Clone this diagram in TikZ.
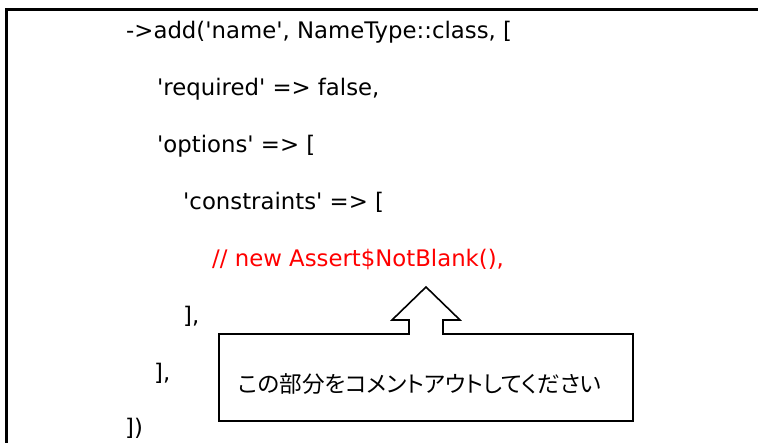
\documentclass[tikz,border=0pt]{standalone}
\usepackage{fontspec}
\setmainfont{DejaVu Sans}[Ligatures=TeXOff]
\newfontfamily\jpfont{Noto Sans CJK JP}[CharacterWidth=AlternateProportional]
\begin{document}
\begin{tikzpicture}[x=1pt,y=-1pt,
  code/.style={anchor=base west,inner sep=0pt,font=\fontsize{22.8}{27}\selectfont},
  frame/.style={line width=2.5pt,black},
  callout/.style={line width=1.6pt,black,line join=miter}]
\useasboundingbox (0,0) rectangle (758,443);
% outer frame (cut off at right and bottom)
\draw[frame] (6.5,443) -- (6.5,9.5) -- (758,9.5);
% code lines
\node[code] (l1) at (126,39) {->add('name', NameType::class, [};
\node[code] (l2) at (157,96) {'required' => false,};
\node[code] (l3) at (157,153) {'options' => [};
\node[code] (l4) at (183,210) {'constraints' => [};
\node[code,text={rgb,255:red,255;green,0;blue,0}] (l5) at (212,267) {// new Assert\$NotBlank(),};
\node[code] (l6) at (183,324) {],};
\node[code] (l7) at (154,381) {],};
\node[code] (l8) at (125,436) {])};
% callout
\draw[callout] (219,334) -- (409,334) -- (409,320) -- (392,320) -- (426,287)
  -- (460,320) -- (443,320) -- (443,334) -- (633,334) -- (633,421) -- (219,421) -- cycle;
\node[anchor=base west,inner sep=0pt,font=\jpfont\fontsize{22.6}{27}\selectfont] (note) at (238,393) {この部分をコメントアウトしてください};
\end{tikzpicture}
\end{document}
